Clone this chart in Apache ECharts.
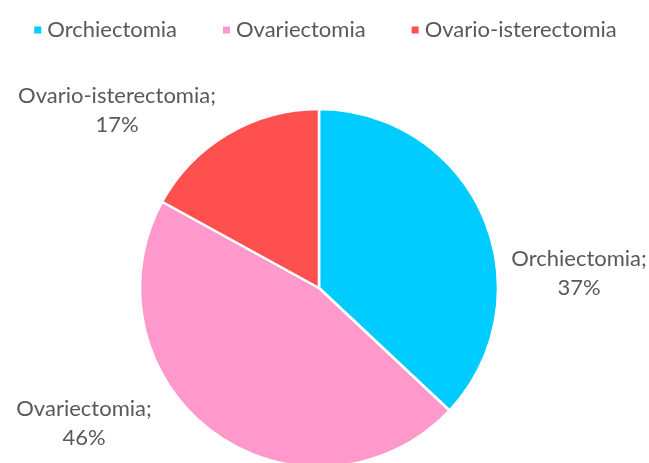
<!doctype html>
<html lang="en">
<head>
    <meta charset="UTF-8">
    <title>Pie</title>
    <style>
        html, body { margin: 0; padding: 0; background: #fff; }
        #pie_chart { width: 649px; height: 463px; }
    </style>
</head>
<body>
<div id="pie_chart"></div>
<script src="https://cdn.jsdelivr.net/npm/echarts@6/dist/echarts.min.js"></script>
<script type="text/javascript">
    var categories = ["Orchiectomia", "Ovariectomia", "Ovario-isterectomia"];
    var percents = [37, 46, 17];
    var colors = ["#00CCFF", "#FF99CC", "#FF5050"];
    // where Excel placed each data label (centre of the text block)
    var label_pos = [[579, 273], [84, 423], [117, 110]];

    var pie_chart = echarts.init(document.getElementById('pie_chart'));

    var data = [];
    for (var i = 0; i < categories.length; i++) {
        data.push({name: categories[i], value: percents[i], itemStyle: {color: colors[i]}});
    }

    var option = {
        animation: false,
        textStyle: {fontFamily: 'Lato'},
        legend: {
            top: 14,
            left: 'center',
            itemWidth: 9,
            itemHeight: 9,
            itemGap: 44,
            icon: 'rect',
            textStyle: {fontSize: 22, color: '#595959', fontFamily: 'Lato'},
            data: categories
        },
        series: [{
            type: 'pie',
            center: [319, 288],
            radius: 179,
            startAngle: 90,
            clockwise: true,
            itemStyle: {borderColor: '#fff', borderWidth: 2.5},
            label: {
                show: true,
                position: 'outside',
                formatter: '{b};\n{d}%',
                fontSize: 22,
                lineHeight: 29,
                color: '#595959',
                fontFamily: 'Lato',
                align: 'center',
                overflow: 'none'
            },
            labelLine: {show: false},
            labelLayout: function (params) {
                var p = label_pos[params.dataIndex];
                return {x: p[0], y: p[1], align: 'center', verticalAlign: 'middle'};
            },
            data: data
        }]
    };
    pie_chart.setOption(option);
</script>
</body>
</html>
